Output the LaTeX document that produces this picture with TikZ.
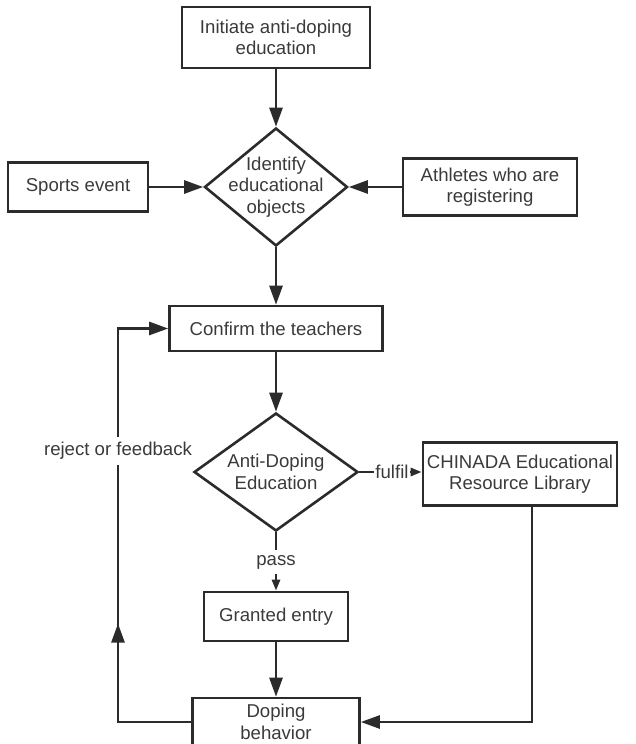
\documentclass[tikz,border=0pt]{standalone}
\usepackage{fontspec}
\setmainfont{Liberation Sans}
\usetikzlibrary{shapes.geometric,arrows.meta,decorations.markings}

\definecolor{inkgray}{HTML}{2B2B2B}
\definecolor{txtgray}{HTML}{3A3A3A}

\tikzset{
    stepbox/.style={draw=inkgray,line width=1.3pt,align=center,inner sep=1pt,text=txtgray},
    decide/.style={draw=inkgray,line width=1.3pt,shape=diamond,inner sep=0pt},
    decidetext/.style={align=center,text=txtgray,inner sep=0pt},
    link/.style={draw=inkgray,line width=1.3pt},
    flow/.style={link,-{Triangle[length=9.5pt,width=6.5pt]}},
    thinflow/.style={link,-{Triangle[length=5.5pt,width=4pt]}},
    tag/.style={fill=white,text=txtgray,inner xsep=1pt,inner ysep=2.5pt},
    uparrow/.style={postaction={decorate},decoration={markings,
        mark=at position #1 with {\arrow{Triangle[length=9.5pt,width=6.5pt]}}}}
}

\begin{document}
\begin{tikzpicture}[
        x=0.5pt,y=-0.5pt,
        font=\fontsize{9.3}{10.8}\selectfont
    ]
    \useasboundingbox (0,0) rectangle (636,744);

    % main column
    \node[stepbox,minimum width=94pt,minimum height=30.5pt] (init) at (276,37.5)
        {Initiate anti-doping\\education};
    \node[decide,minimum width=71.5pt,minimum height=59pt,
        label={[decidetext]center:Identify\\educational\\objects}] (ident) at (276,187) {};
    \node[stepbox,minimum width=70pt,minimum height=24.5pt] (sports) at (78,187)
        {Sports event};
    \node[stepbox,minimum width=87pt,minimum height=28.5pt] (athletes) at (490,187)
        {Athletes who are\\registering};
    \node[stepbox,minimum width=106.5pt,minimum height=22.5pt] (confirm) at (276,328.5)
        {Confirm the teachers};
    \node[decide,minimum width=82pt,minimum height=59pt,
        label={[decidetext]center:Anti-Doping\\Education}] (antidop) at (276,472) {};
    \node[stepbox,minimum width=97pt,minimum height=31.5pt] (chinada) at (520,474)
        {CHINADA Educational\\Resource Library};
    \node[stepbox,minimum width=72pt,minimum height=24.5pt] (granted) at (276,616.5)
        {Granted entry};
    \node[stepbox,minimum width=83.5pt,minimum height=24pt] (doping) at (276,722)
        {Doping\\behavior};

    % labels on the connectors
    \node[tag,inner xsep=0.5pt] (fulfil) at (392,472) {fulfil};
    \node[tag] (pass) at (276,562) {pass};
    \node[tag] (reject) at (118,451) {reject or feedback};

    \draw[flow] (init) -- (ident);
    \draw[flow] (sports) -- (ident);
    \draw[flow] (athletes) -- (ident);
    \draw[flow] (ident) -- (confirm);
    \draw[flow] (confirm) -- (antidop);
    \draw[link] (antidop) -- (fulfil);
    \draw[thinflow] (fulfil.east) -- (fulfil.east -| chinada.west);
    \draw[link] (antidop) -- (pass);
    \draw[thinflow] (pass) -- (granted);
    \draw[flow] (granted) -- (doping);

    % loops back
    \draw[flow] ([xshift=6pt]chinada.south) |- (doping.east);
    \draw[link,uparrow=0.52] (doping.west) -| (reject.south);
    \draw[flow] (reject.north) |- (confirm.west);
\end{tikzpicture}
\end{document}
